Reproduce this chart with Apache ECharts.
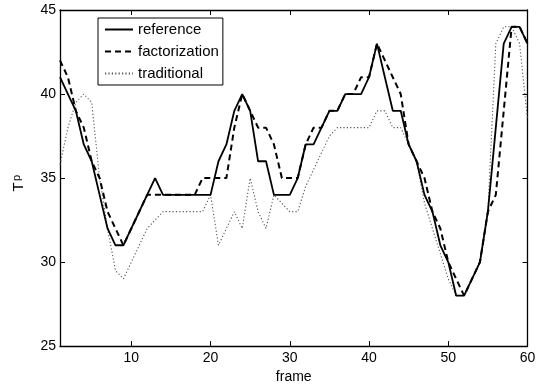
<!DOCTYPE html>
<html>
<head>
<meta charset="utf-8">
<script src="https://cdn.jsdelivr.net/npm/echarts@6/dist/echarts.min.js"></script>
<style>
  html, body { margin: 0; padding: 0; background: #fff; }
  #chart { width: 544px; height: 389px; }
</style>
</head>
<body>
<div id="chart"></div>
<script>
// frame index
const frames = [
  1, 2, 3, 4, 5, 6, 7, 8, 9, 10, 11, 12, 13, 14, 15, 16, 17, 18, 19, 20,
  21, 22, 23, 24, 25, 26, 27, 28, 29, 30, 31, 32, 33, 34, 35, 36, 37, 38, 39, 40,
  41, 42, 43, 44, 45, 46, 47, 48, 49, 50, 51, 52, 53, 54, 55, 56, 57, 58, 59, 60
];

const reference = [
  41, 40, 39, 37, 36, 34, 32, 31, 31, 32, 33, 34, 35, 34, 34, 34, 34, 34, 34, 34,
  36, 37, 39, 40, 39, 36, 36, 34, 34, 34, 35, 37, 37, 38, 39, 39, 40, 40, 40, 41,
  43, 41, 39, 39, 37, 36, 34, 33, 31, 30, 28, 28, 29, 30, 33, 38, 43, 44, 44, 43
];

const factorization = [
  42, 41, 39, 38, 36, 35, 33, 32, 31, 32, 33, 34, 34, 34, 34, 34, 34, 34, 35, 35,
  35, 35, 38, 40, 39, 38, 38, 37, 35, 35, 35, 37, 38, 38, 39, 39, 40, 40, 41, 41,
  43, 42, 41, 40, 37, 36, 35, 33, 32, 30, 29, 28, 29, 30, 33, 34, 39, 44, 44, 43
];

const traditional = [
  35.8, 38, 39.5, 40, 39.5, 35, 32, 29.5, 29, 30, 31, 32, 32.5, 33, 33, 33, 33, 33, 33, 34,
  31, 32, 33, 32, 35, 33, 32, 34, 33.5, 33, 33, 34.5, 35.5, 36.5, 37.5, 38, 38, 38, 38, 38,
  39, 39, 38, 38, 37, 36, 33.5, 32, 30.5, 29, 28, 28, 29, 30, 33, 43, 44, 44, 43, 38.5
];

const xTicks = [10, 20, 30, 40, 50, 60];
const yMin = 25, yMax = 45, yStep = 5;

const FONT = "'Liberation Sans', Arial, Helvetica, sans-serif";

const pairs = (ys) => frames.map((f, i) => [f, ys[i]]);

const chart = echarts.init(document.getElementById('chart'), null, { renderer: 'canvas' });

const axisLine = { show: true, lineStyle: { color: '#000', width: 1.3 } };
const tickIn = { show: true, inside: true, length: 5, lineStyle: { color: '#000', width: 1 } };

const option = {
  backgroundColor: '#fff',
  animation: false,
  textStyle: { fontFamily: FONT },
  grid: { left: 60, right: 16.5, top: 10, bottom: 34, show: false },
  // rotated y label T with subscript p
  graphic: [
    {
      type: 'text',
      x: 19,
      y: 187,
      rotation: Math.PI / 2,
      style: {
        text: 'T',
        font: '15px ' + FONT,
        fill: '#000',
        align: 'center',
        verticalAlign: 'middle'
      }
    },
    {
      type: 'text',
      x: 17,
      y: 178,
      rotation: Math.PI / 2,
      style: {
        text: 'p',
        font: '11px ' + FONT,
        fill: '#000',
        align: 'center',
        verticalAlign: 'middle'
      }
    }
  ],
  legend: {
    orient: 'vertical',
    left: 98,
    top: 18,
    padding: [4, 4, 4, 6],
    itemGap: 7,
    itemWidth: 28,
    itemHeight: 14,
    borderColor: '#000',
    borderWidth: 1,
    borderRadius: 0,
    backgroundColor: '#fff',
    // line sample only, no marker
    itemStyle: { color: 'transparent', borderColor: 'transparent', borderWidth: 0, opacity: 0 },
    textStyle: { fontFamily: FONT, fontSize: 15, color: '#000' },
    data: ['reference', 'factorization', 'traditional']
  },
  xAxis: [
    {
      type: 'value',
      min: 1,
      max: 60,
      position: 'bottom',
      axisLine: axisLine,
      axisTick: Object.assign({}, tickIn, { customValues: xTicks }),
      axisLabel: { customValues: xTicks, color: '#000', fontSize: 14, margin: 5, fontFamily: FONT },
      splitLine: { show: false },
      name: 'frame',
      nameLocation: 'middle',
      nameGap: 19,
      nameTextStyle: { color: '#000', fontSize: 14, fontFamily: FONT }
    },
    {
      type: 'value',
      min: 1,
      max: 60,
      position: 'top',
      axisLine: axisLine,
      axisTick: Object.assign({}, tickIn, { customValues: xTicks }),
      axisLabel: { show: false },
      splitLine: { show: false }
    }
  ],
  yAxis: [
    {
      type: 'value',
      min: yMin,
      max: yMax,
      interval: yStep,
      position: 'left',
      axisLine: axisLine,
      axisTick: tickIn,
      axisLabel: { color: '#000', fontSize: 14, margin: 4, fontFamily: FONT },
      splitLine: { show: false }
    },
    {
      type: 'value',
      min: yMin,
      max: yMax,
      interval: yStep,
      position: 'right',
      axisLine: axisLine,
      axisTick: tickIn,
      axisLabel: { show: false },
      splitLine: { show: false }
    }
  ],
  series: [
    {
      name: 'reference',
      type: 'line',
      data: pairs(reference),
      symbol: 'none',
      lineStyle: { color: '#000', width: 1.8, type: 'solid' },
      itemStyle: { color: '#000' },
      z: 4
    },
    {
      name: 'factorization',
      type: 'line',
      data: pairs(factorization),
      symbol: 'none',
      lineStyle: { color: '#000', width: 2, type: [6, 4] },
      itemStyle: { color: '#000' },
      z: 3
    },
    {
      name: 'traditional',
      type: 'line',
      data: pairs(traditional),
      symbol: 'none',
      lineStyle: { color: '#555', width: 1.1, type: [1.2, 2.2] },
      itemStyle: { color: '#555' },
      z: 2
    }
  ]
};

chart.setOption(option);
</script>
</body>
</html>
